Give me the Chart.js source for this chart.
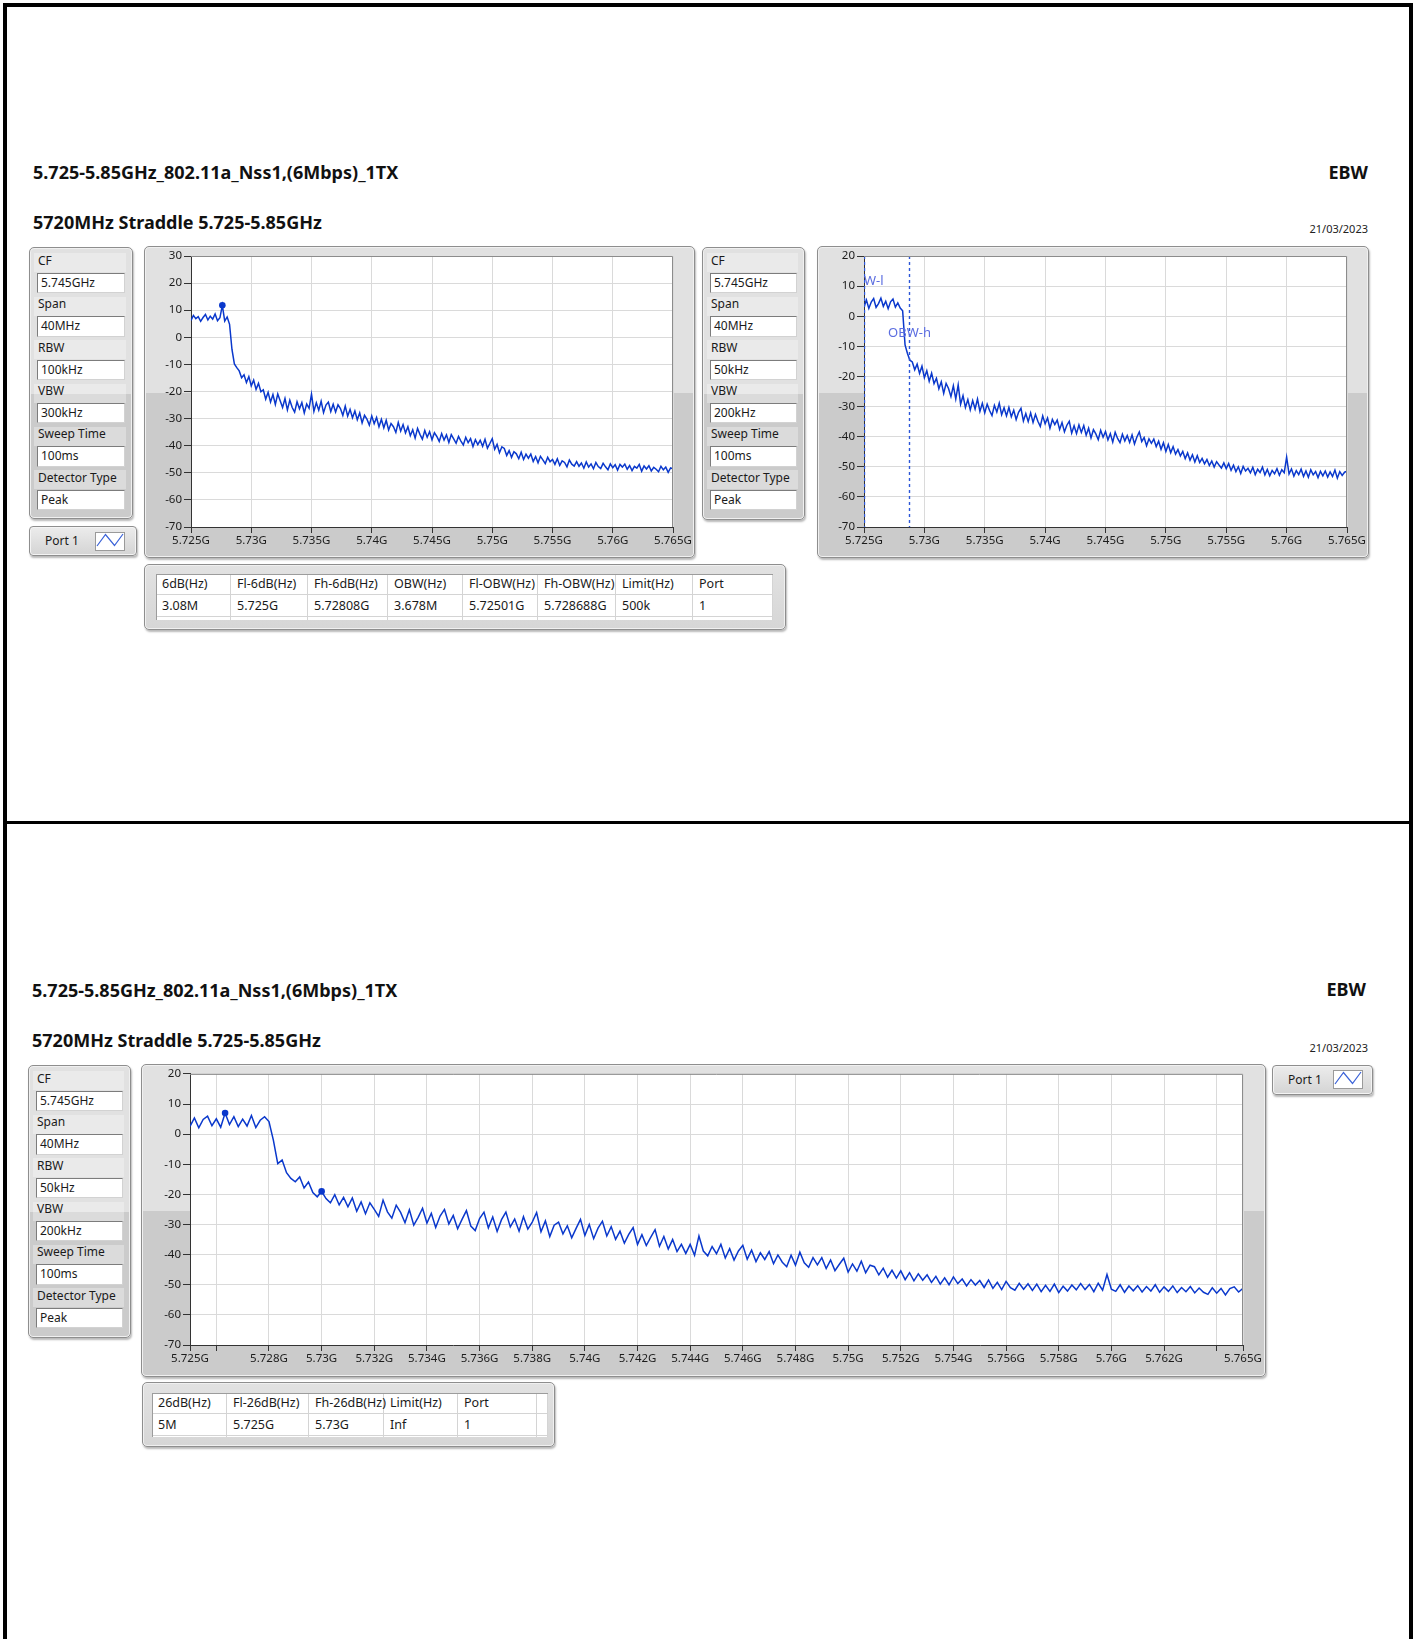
<!DOCTYPE html>
<html>
<head>
<meta charset="utf-8">
<script src="https://cdn.jsdelivr.net/npm/chart.js@4.4.1/dist/chart.umd.min.js"></script>
<style>
html, body { margin: 0; padding: 0; background: #fff; }
body { width: 1415px; height: 1639px; position: relative; overflow: hidden; font-family: 'Noto Sans', sans-serif; color: #1a1a1a; }
.rule { position: absolute; background: #000; }
.title { position: absolute; font-weight: 700; font-size: 18px; line-height: 24px; white-space: nowrap; color: #111; }
.date { position: absolute; font-size: 11px; line-height: 14px; white-space: nowrap; color: #222; }
.panel { position: absolute; box-sizing: border-box; border: 1px solid #8e8e8e; border-radius: 5px;
  background: linear-gradient(#e1e1e1 0, #e1e1e1 146px, #cbcbcb 146px, #cbcbcb 100%);
  box-shadow: inset 0 0 0 1px #f0f0f0, 1px 2px 2px rgba(0,0,0,.28); }
.plain { background: linear-gradient(#e2e2e2, #d6d6d6); }
.band { position: absolute; background: rgba(255,255,255,.32); }
.lbl { position: absolute; font-size: 12px; line-height: 16px; white-space: nowrap; color: #1a1a1a; }
.box { position: absolute; box-sizing: border-box; background: #fff; border: 1px solid; border-color: #7c7c7c #d2d2d2 #d2d2d2 #7c7c7c;
  font-size: 12px; padding-left: 3px; white-space: nowrap; color: #1a1a1a; }
.port { position: absolute; box-sizing: border-box; border: 1px solid #8e8e8e; border-radius: 4px;
  background: linear-gradient(#ececec, #d4d4d4); box-shadow: inset 0 0 0 1px #f4f4f4, 1px 2px 2px rgba(0,0,0,.28); }
.icon { position: absolute; box-sizing: border-box; background: #fff; border: 1px solid #9a9a9a; }
.inner { position: absolute; background: #fff; overflow: hidden; border-top: 1px solid #9c9c9c; border-left: 1px solid #9c9c9c; box-sizing: border-box; }
.cell { position: absolute; box-sizing: border-box; border-right: 1px solid #d4d4d4; border-bottom: 1px solid #d4d4d4;
  font-size: 12.5px; padding-left: 6px; white-space: nowrap; color: #1a1a1a; }
canvas { position: absolute; }
</style>
</head>
<body>

<div class="rule" style="left:3px;top:3px;width:1410px;height:4px"></div>
<div class="rule" style="left:3px;top:3px;width:4px;height:1636px"></div>
<div class="rule" style="left:1409px;top:3px;width:4px;height:1636px"></div>
<div class="rule" style="left:3px;top:821px;width:1410px;height:3px"></div>

<div class="title" style="left:33px;top:160px">5.725-5.85GHz_802.11a_Nss1,(6Mbps)_1TX</div>
<div class="title" style="right:47px;top:160px">EBW</div>
<div class="title" style="left:33px;top:210px">5720MHz Straddle 5.725-5.85GHz</div>
<div class="date" style="right:47px;top:222px">21/03/2023</div>

<div class="title" style="left:32px;top:978px">5.725-5.85GHz_802.11a_Nss1,(6Mbps)_1TX</div>
<div class="title" style="right:49px;top:977px">EBW</div>
<div class="title" style="left:32px;top:1028px">5720MHz Straddle 5.725-5.85GHz</div>
<div class="date" style="right:47px;top:1041px">21/03/2023</div>

<div class="panel" style="left:144px;top:246px;width:551px;height:312px"></div>
<div class="panel" style="left:817px;top:246px;width:552px;height:312px"></div>
<div class="panel" style="left:141px;top:1064px;width:1125px;height:313px"></div>

<canvas id="spec1" width="549" height="310" style="left:145px;top:247px"></canvas>
<canvas id="spec2" width="550" height="310" style="left:818px;top:247px"></canvas>
<canvas id="spec3" width="1123" height="311" style="left:142px;top:1065px"></canvas>

<div class="port" style="left:29px;top:526px;width:108px;height:30px">
  <div class="lbl" style="left:15px;top:6px">Port 1</div>
  <div class="icon" style="left:65px;top:5px;width:30px;height:19px">
    <svg width="28" height="17"><polyline points="1,13 9.5,1.5 18.5,12.5 27,1" fill="none" stroke="#3a62d8" stroke-width="1.2"/></svg>
  </div>
</div>
<div class="port" style="left:1272px;top:1065px;width:101px;height:30px">
  <div class="lbl" style="left:15px;top:6px">Port 1</div>
  <div class="icon" style="left:60px;top:4px;width:30px;height:19px">
    <svg width="28" height="17"><polyline points="1,13 9.5,1.5 18.5,12.5 27,1" fill="none" stroke="#3a62d8" stroke-width="1.2"/></svg>
  </div>
</div>

<script>
// ===== sweep data (dBm), 5.725 GHz .. 5.765 GHz =====
const sweepStart = 5.725;
const sweepStop = 5.765;

// top left plot, RBW 100kHz (201 sweep points)
const levels1 = [
    6.2, 8.1, 6.9, 7.6, 5.9, 7.3, 8.4, 6.4, 7.8, 6.7,
    8.6, 6.1, 7.2, 11.8, 6.0, 7.5, 4.8, -4.5, -9.8, -11.2,
    -12.4, -14.9, -13.8, -16.7, -14.5, -17.9, -15.8, -19.2, -17.0, -20.1,
    -19.4, -22.8, -20.3, -23.9, -21.1, -24.8, -20.9, -23.4, -25.9, -22.6,
    -26.8, -23.2, -25.9, -27.6, -23.8, -26.4, -24.1, -27.9, -24.6, -26.2,
    -21.0, -27.3, -24.2, -26.9, -23.6, -27.8, -25.0, -23.9, -27.4, -24.7,
    -27.6, -24.9, -26.3, -28.8, -25.4, -29.1, -26.6, -29.7, -27.2, -30.4,
    -27.9, -31.6, -28.8, -30.2, -32.4, -29.0, -31.9, -29.6, -33.0, -30.3,
    -33.4, -30.6, -34.2, -31.8, -33.0, -35.1, -31.4, -34.6, -32.2, -35.3,
    -33.0, -36.3, -34.1, -37.2, -33.6, -35.8, -37.6, -34.4, -36.9, -34.8,
    -37.8, -35.2, -36.6, -38.4, -35.5, -37.9, -36.0, -38.8, -35.9, -37.5,
    -39.1, -36.6, -38.3, -39.7, -36.9, -38.9, -37.4, -40.3, -37.8, -39.6,
    -38.0, -40.2, -37.6, -40.9, -39.2, -37.4, -41.3, -39.5, -42.6, -40.4,
    -41.0, -43.6, -41.8, -44.3, -42.2, -43.0, -44.8, -42.4, -45.1, -43.1,
    -44.6, -43.1, -45.8, -44.0, -46.3, -43.9, -45.2, -46.6, -44.3, -45.9,
    -45.1, -46.9, -44.8, -47.3, -45.6, -46.2, -47.8, -45.3, -46.8, -47.5,
    -45.9, -47.6, -46.4, -48.3, -46.0, -47.9, -46.7, -48.5, -46.2, -47.7,
    -48.4, -46.5, -47.8, -48.9, -46.7, -48.1, -47.0, -49.0, -46.9, -47.9,
    -46.8, -48.7, -47.3, -49.2, -47.6, -48.3, -46.9, -49.4, -47.5, -48.6,
    -47.4, -49.3, -48.0, -48.7, -49.6, -47.6, -48.9, -47.9, -49.8, -48.2,
    -48.5
];

// top right plot, RBW 50kHz (201 sweep points)
const levels2 = [
    3.1, 5.4, 2.6, 4.7, 5.9, 2.9, 4.2, 6.0, 3.3, 5.0,
    2.5, 4.8, 5.7, 3.0, 4.4, 2.7, 1.8, -9.5, -12.4, -14.6,
    -15.2, -17.8, -15.9, -19.0, -16.6, -20.4, -18.1, -21.6, -18.9, -22.4,
    -20.6, -24.1, -21.8, -25.6, -22.3, -24.0, -26.7, -23.1, -27.5, -22.8,
    -29.2, -26.4, -30.3, -27.7, -31.1, -28.0, -30.8, -27.5, -31.6, -28.9,
    -32.1, -29.2, -31.3, -33.0, -29.6, -31.8, -28.9, -32.7, -30.4, -33.1,
    -30.3, -33.4, -31.2, -34.3, -31.9, -30.6, -34.8, -32.3, -35.0, -32.1,
    -35.3, -32.6, -34.9, -36.6, -33.1, -35.7, -33.8, -37.2, -34.3, -36.0,
    -34.5, -37.6, -35.3, -38.4, -36.2, -34.9, -38.8, -36.4, -39.0, -36.1,
    -38.6, -36.3, -39.5, -37.2, -40.4, -37.7, -39.1, -41.0, -37.9, -40.2,
    -38.3, -41.1, -39.0, -41.8, -38.5, -40.6, -42.0, -39.2, -41.4, -39.6,
    -41.9, -39.4, -42.4, -40.1, -38.4, -41.6, -40.3, -43.0, -40.7, -42.2,
    -40.8, -43.3, -41.5, -44.2, -42.0, -44.9, -42.6, -45.3, -43.3, -45.8,
    -44.3, -46.4, -44.9, -47.3, -45.4, -47.8, -46.0, -48.4, -46.3, -48.6,
    -47.2, -49.0, -47.6, -49.6, -48.1, -50.1, -48.3, -49.4, -50.4, -48.7,
    -50.6, -48.9, -51.2, -49.5, -51.6, -50.0, -52.2, -49.9, -51.4, -50.5,
    -52.0, -50.2, -52.6, -50.8, -51.9, -50.1, -52.7, -50.9, -53.0, -51.2,
    -52.3, -50.6, -52.8, -51.0, -52.0, -46.8, -52.4, -50.7, -53.1, -51.3,
    -52.6, -50.8, -53.2, -51.4, -53.5, -51.0, -52.7, -51.6, -53.6, -51.5,
    -53.0, -51.4, -53.4, -51.7, -53.2, -51.1, -53.8, -51.6, -52.9, -51.8,
    -51.5
];

// bottom plot, 26dB bandwidth (241 sweep points)
const levels3 = [
    2.6, 5.4, 2.1, 4.9, 6.0, 2.8, 5.1, 2.3, 7.0, 3.2, 5.8, 2.5,
    5.0, 2.7, 6.2, 2.2, 4.6, 5.8, 4.2, -2.0, -9.8, -8.6, -12.8, -14.7,
    -15.8, -14.2, -17.9, -15.9, -19.4, -20.8, -19.0, -21.4, -22.8, -20.1, -23.5, -21.0,
    -24.1, -21.2, -25.6, -22.5, -26.4, -22.8, -25.0, -27.3, -21.9, -25.8, -27.9, -23.6,
    -26.0, -29.4, -25.1, -30.2, -27.6, -24.6, -29.5, -26.3, -31.0, -27.2, -25.0, -29.8,
    -27.0, -31.4, -28.3, -25.4, -30.5, -32.0, -28.0, -25.9, -31.1, -27.5, -32.3, -28.4,
    -25.9, -30.8, -28.2, -32.2, -27.4, -31.5, -29.2, -26.0, -32.4, -28.8, -34.0, -30.2,
    -29.2, -33.1, -30.4, -34.4, -31.3, -28.3, -33.6, -30.0, -34.7, -31.2, -28.9, -33.8,
    -30.7, -34.9, -32.2, -36.2, -33.3, -31.0, -36.6, -33.4, -37.0, -34.3, -31.7, -37.2,
    -34.0, -38.1, -35.0, -39.0, -36.6, -39.6, -36.6, -40.2, -33.8, -38.8, -40.4, -37.3,
    -39.7, -36.6, -41.1, -38.0, -41.8, -38.8, -36.9, -41.5, -38.5, -42.3, -39.4, -41.6,
    -39.0, -43.0, -40.1, -42.5, -44.0, -40.2, -43.5, -39.2, -42.7, -44.2, -41.0, -43.4,
    -41.0, -44.6, -41.8, -45.3, -43.2, -41.2, -45.8, -43.1, -45.5, -42.2, -46.0, -43.5,
    -44.0, -46.7, -44.5, -47.5, -45.2, -47.8, -45.4, -48.3, -46.0, -48.7, -46.4, -48.5,
    -46.7, -49.2, -47.2, -49.8, -47.7, -50.0, -47.4, -49.6, -48.1, -50.4, -48.3, -50.1,
    -48.6, -50.9, -48.4, -51.2, -49.2, -51.6, -48.9, -51.0, -51.8, -49.5, -51.5, -49.7,
    -51.9, -49.8, -52.3, -50.2, -52.2, -49.8, -52.6, -50.5, -52.1, -50.1, -51.7, -49.6,
    -51.6, -49.9, -52.3, -49.5, -51.8, -46.6, -51.5, -52.2, -50.0, -52.5, -50.4, -52.0,
    -50.3, -52.4, -50.6, -52.1, -50.0, -52.5, -50.7, -52.2, -50.4, -52.6, -50.9, -52.3,
    -50.6, -52.7, -51.1, -52.5, -53.2, -51.0, -52.8, -51.2, -53.4, -51.3, -50.7, -52.4,
    -51.2
];

// marker positions (sweep point index)
const markers1 = [13];
const markers2 = [];
const markers3 = [8, 30];

// OBW cursors on top right plot
const obwFreqs = [5.72501, 5.728688];
const obwNames = ['OBW-l', 'OBW-h'];
const obwLabelLevels = [11.7, -5.6];

// axes
const yTicks1 = [30, 20, 10, 0, -10, -20, -30, -40, -50, -60, -70];
const yTicks2 = [20, 10, 0, -10, -20, -30, -40, -50, -60, -70];
const xTicks12 = [5.725, 5.73, 5.735, 5.74, 5.745, 5.75, 5.755, 5.76, 5.765];
const xLabels12 = ['5.725G', '5.73G', '5.735G', '5.74G', '5.745G', '5.75G', '5.755G', '5.76G', '5.765G'];
const xTicks3 = [5.725, 5.726, 5.728, 5.73, 5.732, 5.734, 5.736, 5.738, 5.74, 5.742, 5.744, 5.746,
                 5.748, 5.75, 5.752, 5.754, 5.756, 5.758, 5.76, 5.762, 5.764, 5.765];
const xLabels3 = ['5.725G', '', '5.728G', '5.73G', '5.732G', '5.734G', '5.736G', '5.738G', '5.74G', '5.742G', '5.744G', '5.746G',
                  '5.748G', '5.75G', '5.752G', '5.754G', '5.756G', '5.758G', '5.76G', '5.762G', '', '5.765G'];

// settings panels
const paramNames = ['CF', 'Span', 'RBW', 'VBW', 'Sweep Time', 'Detector Type'];
const params1 = ['5.745GHz', '40MHz', '100kHz', '300kHz', '100ms', 'Peak'];
const params2 = ['5.745GHz', '40MHz', '50kHz', '200kHz', '100ms', 'Peak'];
const params3 = ['5.745GHz', '40MHz', '50kHz', '200kHz', '100ms', 'Peak'];

// result tables
const head1 = ['6dB(Hz)', 'Fl-6dB(Hz)', 'Fh-6dB(Hz)', 'OBW(Hz)', 'Fl-OBW(Hz)', 'Fh-OBW(Hz)', 'Limit(Hz)', 'Port'];
const row1 = ['3.08M', '5.725G', '5.72808G', '3.678M', '5.72501G', '5.728688G', '500k', '1'];
const head2 = ['26dB(Hz)', 'Fl-26dB(Hz)', 'Fh-26dB(Hz)', 'Limit(Hz)', 'Port'];
const row2 = ['5M', '5.725G', '5.73G', 'Inf', '1'];

const traceColor = '#0a38cc';

Chart.defaults.font.family = "'Noto Sans', sans-serif";

// ===== page widgets =====
function addEl(cls, style, text) {
    const el = document.createElement('div');
    el.className = cls;
    el.setAttribute('style', style);
    if (text !== undefined) el.textContent = text;
    document.body.appendChild(el);
    return el;
}

function paramPanel(left, top, width, height, boxLeft, boxWidth, values) {
    addEl('panel', `left:${left}px;top:${top}px;width:${width}px;height:${height}px`);
    paramNames.forEach((name, k) => {
        const off = k * 43.4;
        addEl('band', `left:${boxLeft - 3}px;top:${top + 6.3 + off}px;width:${boxWidth + 4}px;height:19px`);
        addEl('lbl', `left:${boxLeft + 1}px;top:${top + 5.7 + off}px`, name);
        addEl('box', `left:${boxLeft}px;top:${top + 25.7 + off}px;width:${boxWidth}px;height:20.5px;line-height:18.5px`, values[k]);
    });
}

function resultTable(left, top, width, height, inLeft, inTop, inRight, inBottom, edges, head, row) {
    addEl('panel plain', `left:${left}px;top:${top}px;width:${width}px;height:${height}px`);
    const inner = addEl('inner', `left:${inLeft}px;top:${inTop}px;width:${inRight - inLeft}px;height:${inBottom - inTop}px`);
    const rows = [head, row, []];
    const rowTops = [0, 21, 43];
    const rowH = [21, 22, 22];
    rows.forEach((cells, r) => {
        for (let c = 0; c < edges.length - 1; c++) {
            const cell = document.createElement('div');
            cell.className = 'cell';
            cell.setAttribute('style', `left:${edges[c] - inLeft - 1}px;top:${rowTops[r] - 1}px;width:${edges[c + 1] - edges[c]}px;height:${rowH[r]}px;line-height:${rowH[r] - 1}px`);
            cell.textContent = cells[c] || '';
            inner.appendChild(cell);
        }
    });
}

paramPanel(29, 247, 104, 272, 37, 88, params1);
paramPanel(702, 247, 103, 273, 710, 87, params2);
paramPanel(28, 1065, 103, 273, 36, 87, params3);

resultTable(144, 564, 642, 66, 156, 574, 773, 620, [156, 231, 308, 388, 463, 538, 616, 693, 773], head1, row1);
resultTable(142, 1382, 413, 65, 152, 1393, 548, 1437, [152, 227, 309, 384, 458, 537, 548], head2, row2);

// ===== charts =====
function sweepPoints(levels) {
    const step = (sweepStop - sweepStart) / (levels.length - 1);
    return levels.map((y, i) => ({ x: sweepStart + i * step, y: y }));
}

const plotFrame = {
    id: 'plotFrame',
    beforeDraw(chart) {
        const a = chart.chartArea, ctx = chart.ctx;
        ctx.save();
        ctx.fillStyle = '#ffffff';
        ctx.fillRect(a.left, a.top, a.right - a.left, a.bottom - a.top);
        ctx.restore();
    },
    afterDraw(chart) {
        const a = chart.chartArea, ctx = chart.ctx;
        ctx.save();
        ctx.strokeStyle = '#8c8c8c';
        ctx.lineWidth = 1;
        ctx.beginPath();
        ctx.moveTo(a.left, a.top + 0.5);
        ctx.lineTo(a.right - 0.5, a.top + 0.5);
        ctx.lineTo(a.right - 0.5, a.bottom);
        ctx.stroke();
        ctx.restore();
    }
};

const obwCursors = {
    id: 'obwCursors',
    afterDatasetsDraw(chart, args, opts) {
        if (!opts.freqs) return;
        const a = chart.chartArea, ctx = chart.ctx;
        const xs = chart.scales.x, ys = chart.scales.y;
        ctx.save();
        ctx.beginPath();
        ctx.rect(a.left, a.top, a.right - a.left, a.bottom - a.top);
        ctx.clip();
        opts.freqs.forEach((f, k) => {
            const x = Math.round(xs.getPixelForValue(f)) + 0.5;
            ctx.strokeStyle = '#2c56d8';
            ctx.lineWidth = 1.4;
            ctx.setLineDash([3, 3]);
            ctx.beginPath();
            ctx.moveTo(x, a.top);
            ctx.lineTo(x, a.bottom);
            ctx.stroke();
            ctx.setLineDash([]);
            ctx.fillStyle = '#5b6de0';
            ctx.font = "13px 'Noto Sans', sans-serif";
            ctx.textAlign = 'center';
            ctx.textBaseline = 'middle';
            ctx.fillText(opts.names[k], x, ys.getPixelForValue(opts.levels[k]));
        });
        ctx.restore();
    }
};

function spectrum(id, cfg) {
    const pts = sweepPoints(cfg.levels);
    const marks = cfg.markers.map(i => pts[i]);
    return new Chart(document.getElementById(id), {
        type: 'line',
        data: {
            datasets: [{
                data: pts,
                borderColor: traceColor,
                borderWidth: 1.5,
                pointRadius: 0,
                tension: 0
            }, {
                data: marks,
                showLine: false,
                pointRadius: 3.3,
                pointBackgroundColor: traceColor,
                pointBorderColor: traceColor,
                pointBorderWidth: 0
            }]
        },
        options: {
            responsive: false,
            animation: false,
            events: [],
            layout: { padding: { left: 0, top: cfg.padTop, right: cfg.padRight, bottom: 0 } },
            plugins: {
                legend: { display: false },
                tooltip: { enabled: false },
                obwCursors: cfg.obw || {}
            },
            scales: {
                x: {
                    type: 'linear',
                    min: sweepStart,
                    max: sweepStop,
                    afterFit: s => { s.height = cfg.xHeight; },
                    afterBuildTicks: s => { s.ticks = cfg.xTicks.map(v => ({ value: v })); },
                    ticks: {
                        autoSkip: false,
                        maxRotation: 0,
                        padding: 1,
                        color: '#1c1c1c',
                        font: { size: 11.5 },
                        callback: (v, i) => cfg.xLabels[i]
                    },
                    grid: { color: '#dadada', tickColor: '#333', tickLength: 6 },
                    border: { color: '#333', width: 1 }
                },
                y: {
                    min: cfg.yTicks[cfg.yTicks.length - 1],
                    max: cfg.yTicks[0],
                    afterFit: s => { s.width = cfg.yWidth; },
                    afterBuildTicks: s => { s.ticks = cfg.yTicks.map(v => ({ value: v })); },
                    ticks: {
                        padding: 2,
                        color: '#1c1c1c',
                        font: { size: 11.5 },
                        callback: v => String(v)
                    },
                    grid: { color: '#dadada', tickColor: '#333', tickLength: 7 },
                    border: { color: '#333', width: 1 }
                }
            }
        },
        plugins: [plotFrame, obwCursors]
    });
}

spectrum('spec1', {
    levels: levels1, markers: markers1, yTicks: yTicks1, xTicks: xTicks12, xLabels: xLabels12,
    yWidth: 46, padTop: 9, padRight: 21, xHeight: 30
});
spectrum('spec2', {
    levels: levels2, markers: markers2, yTicks: yTicks2, xTicks: xTicks12, xLabels: xLabels12,
    yWidth: 46, padTop: 9, padRight: 21, xHeight: 30,
    obw: { freqs: obwFreqs, names: obwNames, levels: obwLabelLevels }
});
spectrum('spec3', {
    levels: levels3, markers: markers3, yTicks: yTicks2, xTicks: xTicks3, xLabels: xLabels3,
    yWidth: 48, padTop: 8, padRight: 22, xHeight: 31
});
</script>
</body>
</html>
